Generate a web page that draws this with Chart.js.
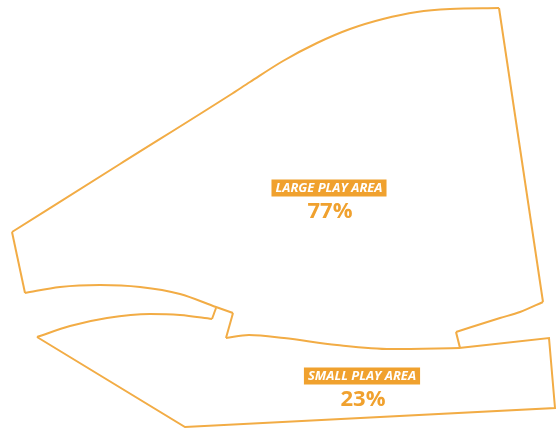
<!DOCTYPE html>
<html>
<head>
<meta charset="utf-8">
<script src="https://cdn.jsdelivr.net/npm/chart.js@4.4.1/dist/chart.umd.min.js"></script>
<style>
  html, body { margin: 0; padding: 0; background: #fff; }
  #wrap { width: 557px; height: 432px; }
</style>
</head>
<body>
<div id="wrap"><canvas id="areaChart"></canvas></div>
<script>
const topCurve = [[12,232],[120,164],[230,95],[250,82],[283,61],[317,43],[350,29],[383,19],[417,12],[450,9],[499,8]];
const rightEdge = [[499,8],[543,302]];
const rightLower = [[456,332],[500,318],[520,312],[543,302]];
const rightStep = [[456,332],[460,348]];
const bottomCurve = [[226,338],[249,335],[284,338],[337,345],[391,349],[460,348]];
const notchLarge = [[226,338],[233,313]];
const lobeCurve = [[25,293],[60,287],[100,285],[140,287],[180,294],[216,307],[233,313]];
const leftEdge = [[25,293],[12,232]];

const smallTop = [[37,337],[70,326],[107,318],[150,314],[180,315],[212,319]];
const smallNotch = [[212,319],[216,308]];
const smallRest = [[459,348],[549,338],[555,408],[185,427],[37,337]];

// labels
const areaNames = ['LARGE PLAY AREA', 'SMALL PLAY AREA'];
const areaShares = [77, 23];
const labelX = [329, 362];
const labelY = [188, 376];

const orange = '#f0a12e';
const lineColor = '#f2ac45';

const toPts = arr => arr.map(p => ({ x: p[0], y: p[1] }));

// [points, smooth?]
const segments = [
    [topCurve, true], [rightEdge, false], [rightLower, true], [rightStep, false],
    [bottomCurve, true], [notchLarge, false], [lobeCurve, true], [leftEdge, false],
    [smallTop, true], [smallNotch, false], [smallRest, false]
];

const labelPlugin = {
    id: 'areaLabels',
    afterDatasetsDraw(chart) {
        const c = chart.ctx;
        const xs = chart.scales.x, ys = chart.scales.y;
        c.save();
        areaNames.forEach((name, i) => {
            const cx = xs.getPixelForValue(labelX[i]);
            const cy = ys.getPixelForValue(labelY[i]);
            c.font = 'italic bold 13px "Open Sans"';
            const w = c.measureText(name).width + 8;
            c.fillStyle = orange;
            c.fillRect(cx - w / 2, cy - 8.5, w, 17);
            c.fillStyle = '#fff';
            c.textAlign = 'center';
            c.textBaseline = 'middle';
            c.fillText(name, cx, cy + 0.5);
            c.font = 'bold 22px "Open Sans"';
            c.fillStyle = orange;
            c.fillText(areaShares[i] + '%', cx + 1, cy + 24);
        });
        c.restore();
    }
};

const ctx = document.getElementById('areaChart').getContext('2d');

new Chart(ctx, {
    type: 'scatter',
    data: {
        datasets: segments.map(s => ({
            data: toPts(s[0]),
            showLine: true,
            cubicInterpolationMode: s[1] ? 'monotone' : 'default',
            tension: 0,
            borderColor: lineColor,
            borderWidth: 2,
            pointRadius: 0,
            fill: false
        }))
    },
    options: {
        responsive: true,
        maintainAspectRatio: false,
        animation: false,
        layout: { padding: 0 },
        plugins: { legend: { display: false }, tooltip: { enabled: false } },
        scales: {
            x: { type: 'linear', min: 0, max: 557, display: false },
            y: { type: 'linear', min: 0, max: 432, reverse: true, display: false }
        }
    },
    plugins: [labelPlugin]
});
</script>
</body>
</html>
